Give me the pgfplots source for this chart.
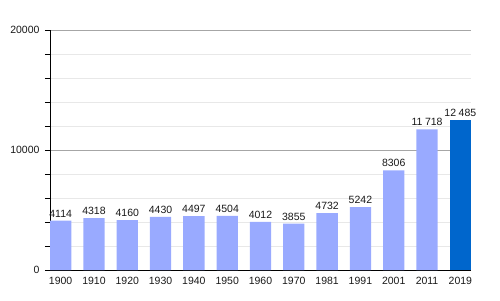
\documentclass[border=0pt]{standalone}
\usepackage{fontspec}
\setmainfont{Liberation Sans}
\usepackage{pgfplots}
\pgfplotsset{compat=1.18}
\usetikzlibrary{calc}
\definecolor{barlight}{HTML}{99AAFF}
\definecolor{bardark}{HTML}{0066CC}
\begin{document}
\begin{tikzpicture}
\begin{axis}[name=ax, scale only axis, width=421pt, height=240pt,
  xmin=-0.32, xmax=12.32, ymin=0, ymax=20000,
  axis x line=bottom, axis y line=left,
  axis line style={-, black, line width=0.8pt},
  xtick={0,...,12},
  xticklabels={1900,1910,1920,1930,1940,1950,1960,1970,1981,1991,2001,2011,2019},
  x tick style={draw=none},
  ytick={0,10000,20000}, scaled y ticks=false,
  minor ytick={2000,4000,6000,8000,12000,14000,16000,18000},
  tick align=outside, major tick length=5pt, minor tick length=5pt,
  y tick style={black, line width=0.6pt},
  ymajorgrids, yminorgrids,
  major grid style={gray!70, line width=0.6pt},
  minor grid style={gray!18, line width=0.6pt},
  /pgf/number format/assume math mode=true,
  tick label style={font=\fontsize{10.5}{12}\selectfont, text=black!90},
  yticklabel style={/pgf/number format/1000 sep={}, xshift=-2pt},
  xticklabel style={yshift=1pt},
  ybar, bar width=0.64, bar shift=0pt,
  nodes near coords,
  nodes near coords style={font=\fontsize{10.5}{12}\selectfont, text=black!90,
    /pgf/number format/.cd, 1000 sep={\hspace{0.25em}}, min exponent for 1000 sep=4},
]
\addplot[draw=none, fill=barlight, bar shift=0pt] coordinates {
(0,4114) (1,4318) (2,4160) (3,4430) (4,4497) (5,4504) (6,4012) (7,3855) (8,4732) (9,5242) (10,8306) (11,11718)};
\addplot[draw=none, fill=bardark, bar shift=0pt] coordinates {(12,12485)};
\end{axis}
\pgfresetboundingbox
\path ($(ax.south west)+(-50pt,-30pt)$) rectangle ($(ax.north east)+(29pt,30pt)$);
\end{tikzpicture}
\end{document}
